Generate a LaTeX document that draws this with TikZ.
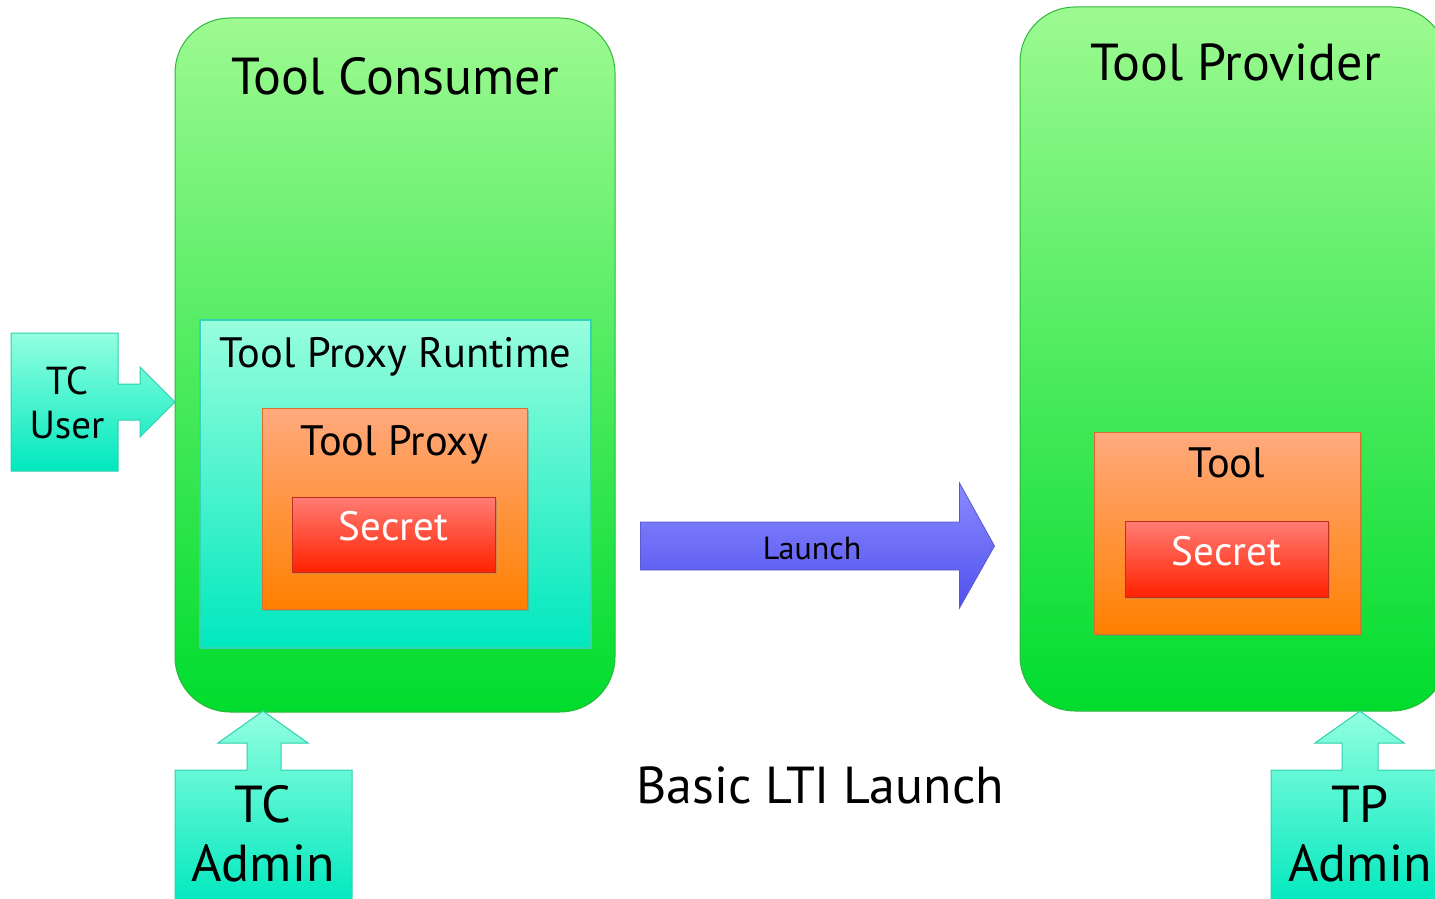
\documentclass[tikz,border=0pt]{standalone}
\usepackage{fontspec}
\setmainfont{PT Sans}
\usetikzlibrary{positioning,calc,shadows}

\definecolor{panelTop}{HTML}{9DFA91}
\definecolor{panelBot}{HTML}{00DC2E}
\definecolor{panelLine}{HTML}{2CB83A}
\definecolor{runTop}{HTML}{98FEDD}
\definecolor{runBot}{HTML}{00E8BE}
\definecolor{runLine}{HTML}{33D6B4}
\definecolor{toolTop}{HTML}{FFA97E}
\definecolor{toolBot}{HTML}{FF8000}
\definecolor{toolLine}{HTML}{D8702E}
\definecolor{secTop}{HTML}{FF7C74}
\definecolor{secBot}{HTML}{FF2200}
\definecolor{secLine}{HTML}{C0301E}
\definecolor{launchTop}{HTML}{8A8AFF}
\definecolor{launchBot}{HTML}{5050EE}
\definecolor{launchLine}{HTML}{5A5AD0}
\definecolor{roleTop}{HTML}{92FFE0}
\definecolor{roleBot}{HTML}{00E8BE}
\definecolor{roleLine}{HTML}{2ED0AE}

\tikzset{
  panel/.style={draw=panelLine, line width=1pt, rounded corners=55pt,
    top color=panelTop, bottom color=panelBot, inner sep=0pt},
  runtime/.style={draw=runLine, line width=1.5pt,
    top color=runTop, bottom color=runBot, inner sep=0pt},
  toolbox/.style={draw=toolLine, line width=1pt,
    top color=toolTop, bottom color=toolBot, inner sep=0pt,
    drop shadow={opacity=.4, shadow xshift=2pt, shadow yshift=-2pt}},
  secretbox/.style={draw=secLine, line width=1pt,
    top color=secTop, bottom color=secBot, inner sep=0pt, text=white,
    font=\fontsize{41}{45}\selectfont, text height=28pt, text depth=16pt,
    drop shadow={opacity=.4, shadow xshift=2pt, shadow yshift=-2pt}},
  role/.style={draw=roleLine, line width=1pt, top color=roleTop, bottom color=roleBot},
  rolelabel/.style={align=center, inner sep=0pt},
  title/.style={font=\fontsize{52}{58}\selectfont, anchor=base, inner sep=0pt},
  boxlabel/.style={font=\fontsize{42.5}{47}\selectfont, anchor=base, inner sep=0pt},
  launcharrow/.style={draw=launchLine, line width=.8pt,
    top color=launchTop, bottom color=launchBot},
}

\begin{document}
\begin{tikzpicture}[x=1pt, y=-1pt]
  \clip (0,0) rectangle (1435,899);

  % consumer side
  \node[panel, minimum width=440pt, minimum height=694pt] (tc) at (395,365) {};
  \node[title] (tctitle) at ($(tc.north)+(0,77)$) {Tool Consumer};
  \node[runtime, minimum width=391pt, minimum height=328pt] (rt) at (395.5,484) {};
  \node[boxlabel] (rtlabel) at ($(rt.north)+(0,48)$) {Tool Proxy Runtime};
  \node[toolbox, minimum width=265pt, minimum height=201pt] (proxy) at (394.5,508.5) {};
  \node[boxlabel] (proxylabel) at ($(proxy.north)+(0,48)$) {Tool Proxy};
  \node[secretbox, minimum width=203pt, minimum height=75pt] (tcsecret) at (393.5,534.5) {Secret};

  % provider side
  \node[panel, minimum width=427pt, minimum height=704pt] (tp) at (1233.5,359) {};
  \node[title] (tptitle) at ($(tp.north)+(2,74)$) {Tool Provider};
  \node[toolbox, minimum width=266pt, minimum height=202pt] (tool) at (1227,533) {};
  \node[boxlabel] (toollabel) at ($(tool.north)+(0,46)$) {Tool};
  \node[secretbox, minimum width=203pt, minimum height=76pt] (tpsecret) at (1226.5,559) {Secret};

  % launch
  \coordinate (lstart) at ($(tc.east)+(25,181)$);
  \coordinate (lend) at ($(tp.west)+(-25,187)$);
  \draw[launcharrow] ($(lstart)+(0,-24)$) -- ($(lend)+(-35,-24)$) -- ($(lend)+(-35,-63)$)
    -- (lend) -- ($(lend)+(-35,62)$) -- ($(lend)+(-35,24)$) -- ($(lstart)+(0,24)$) -- cycle;
  \node[font=\fontsize{32}{35}\selectfont, anchor=base, inner sep=0pt] (launch) at (812,559) {Launch};

  % roles
  \draw[role] (11,333) -- (118,333) -- (118,384) -- (140,384) -- (140,367) -- (175,402)
    -- (140,437) -- (140,420) -- (118,420) -- (118,471) -- (11,471) -- cycle;
  \node[rolelabel, font=\fontsize{39}{44}\selectfont] (tcuser) at (67,403) {TC\\User};
  \draw[role] (175,905) -- (175,770) -- (247,770) -- (247,743) -- (218,743) -- (263,711)
    -- (308,743) -- (281,743) -- (281,770) -- (352,770) -- (352,905) -- cycle;
  \node[rolelabel, font=\fontsize{52}{59}\selectfont] (tcadmin) at (263,834) {TC\\Admin};
  \draw[role] (1271,905) -- (1271,770) -- (1342,770) -- (1342,743) -- (1315,743) -- (1360,711)
    -- (1404,743) -- (1378,743) -- (1378,770) -- (1445,770) -- (1445,905) -- cycle;
  \node[rolelabel, font=\fontsize{52}{59}\selectfont] (tpadmin) at (1360,834) {TP\\Admin};

  \node[title] (caption) at (820,803) {Basic LTI Launch};
\end{tikzpicture}
\end{document}
